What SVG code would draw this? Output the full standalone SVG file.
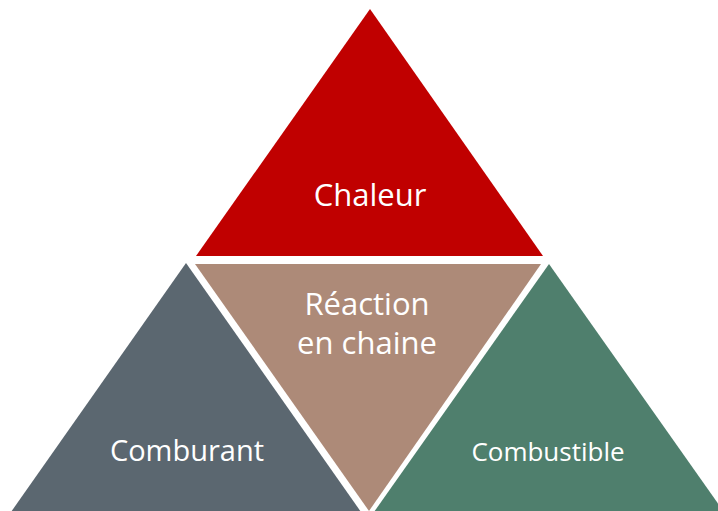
<svg xmlns="http://www.w3.org/2000/svg" width="718" height="511" viewBox="0 0 718 511">
<style>
text{font-family:"Open Sans","Liberation Sans",sans-serif;fill:#ffffff;text-anchor:middle}
</style>
<rect width="718" height="511" fill="#ffffff"/>
<g id="chaleur">
<polygon points="370,9 543,256 196,256" fill="#C00000"/>
<text x="370" y="206" font-size="31">Chaleur</text>
</g>
<g id="reaction">
<polygon points="195,264 541,264 369,511" fill="#AD8A78"/>
<text x="367" y="315" font-size="31">Réaction</text>
<text x="367" y="354" font-size="31">en chaine</text>
</g>
<g id="comburant">
<polygon points="186,263 361,512 11,512" fill="#5B6770"/>
<text x="187" y="461" font-size="29">Comburant</text>
</g>
<g id="combustible">
<polygon points="549,264 724,512 374,512" fill="#4F7F6D"/>
<text x="548" y="461" font-size="26">Combustible</text>
</g>
<g id="connectors"></g>
</svg>
